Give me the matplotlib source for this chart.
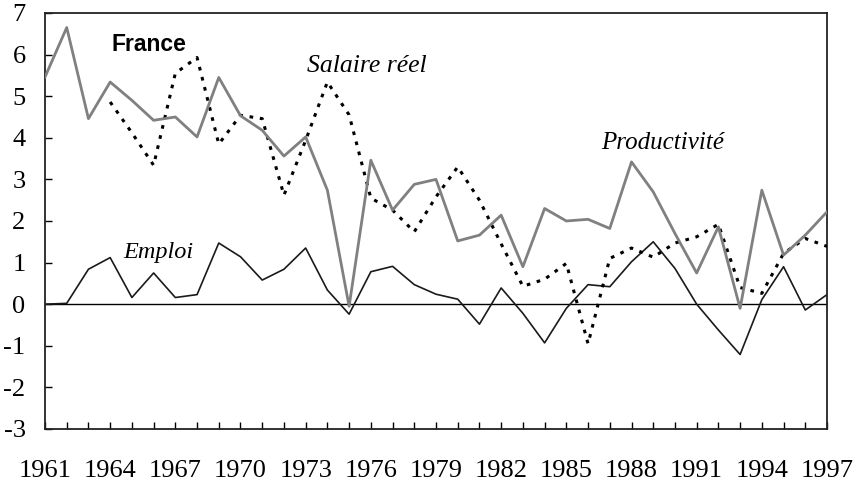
import matplotlib.pyplot as plt

years = list(range(1961, 1998))

productivite = [5.46, 6.65, 4.46, 5.34, 4.90, 4.42, 4.50, 4.02, 5.45, 4.53,
                4.18, 3.56, 4.02, 2.74, -0.05, 3.46, 2.26, 2.88, 3.00, 1.52,
                1.66, 2.14, 0.90, 2.30, 2.00, 2.04, 1.82, 3.42, 2.70, 1.70,
                0.75, 1.86, -0.10, 2.74, 1.18, 1.66, 2.22]

salaire_years = list(range(1964, 1998))
salaire = [4.86, 4.12, 3.34, 5.55, 5.93, 3.85, 4.54, 4.46, 2.62, 3.94,
           5.34, 4.55, 2.55, 2.26, 1.74, 2.58, 3.30, 2.50, 1.45, 0.43,
           0.60, 0.98, -0.95, 1.10, 1.35, 1.13, 1.47, 1.62, 1.92, 0.40,
           0.26, 1.22, 1.58, 1.39]

emploi = [0.0, 0.02, 0.84, 1.12, 0.16, 0.75, 0.16, 0.23, 1.47, 1.14,
          0.58, 0.84, 1.35, 0.34, -0.24, 0.78, 0.91, 0.47, 0.24, 0.12,
          -0.48, 0.39, -0.22, -0.93, -0.10, 0.47, 0.42, 1.02, 1.50, 0.86,
          0.0, -0.62, -1.21, 0.11, 0.90, -0.14, 0.23]

serif = 'Liberation Serif'

fig = plt.figure(figsize=(8.62, 4.86), dpi=100)
ax = fig.add_axes([0.0522, 0.1173, 0.9072, 0.856])

ax.axhline(0, color='black', lw=1.0, zorder=1)
ax.plot(years, emploi, color='#1a1a1a', lw=1.2, zorder=2)
ax.plot(salaire_years, salaire, color='black', lw=2.2,
        linestyle=(0, (1.2, 2.2)), zorder=3)
ax.plot(years, productivite, color='#808080', lw=2.0, zorder=4)

ax.set_xlim(1961, 1997)
ax.set_ylim(-3, 7)
ax.set_yticks(range(-3, 8))
ax.set_yticklabels([str(v) for v in range(-3, 8)], fontfamily=serif, fontsize=19)
ax.set_xticks(years)
ax.set_xticklabels([str(y) if (y - 1961) % 3 == 0 else '' for y in years],
                   fontfamily=serif, fontsize=19)
ax.tick_params(axis='y', direction='in', length=5, width=1, pad=14)
ax.tick_params(axis='x', direction='in', length=5, width=1, pad=22)
for s in ax.spines.values():
    s.set_linewidth(1.3)
    s.set_color('#222222')

ax.text(1965.8, 6.25, 'France', fontfamily='Liberation Sans', fontweight='bold',
        fontsize=16.5, ha='center', va='center')
ax.text(1973.05, 5.72, 'Salaire réel', fontfamily=serif, style='italic',
        fontsize=18.5, ha='left', va='center')
ax.text(1986.6, 3.87, 'Productivité', fontfamily=serif, style='italic',
        fontsize=18, ha='left', va='center')
ax.text(1964.6, 1.25, 'Emploi', fontfamily=serif, style='italic',
        fontsize=17.5, ha='left', va='center')

fig.savefig('out.png', dpi=100)
